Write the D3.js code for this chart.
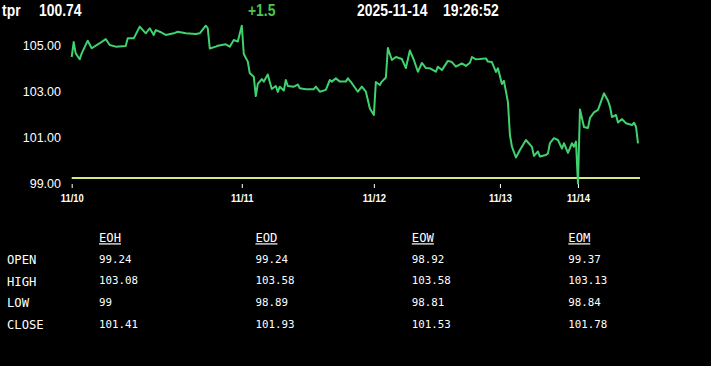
<!DOCTYPE html>
<html>
<head>
<meta charset="utf-8">
<script src="https://cdn.jsdelivr.net/npm/d3@7"></script>
<style>
body{margin:0;background:#000;overflow:hidden;}
#svg-container svg{display:block;background:#000;}
</style>
</head>
<body>
<div id="svg-container"></div>
<script>
//header
symbol="tpr";
lastPrice=100.74;
change="+1.5";
dateText="2025-11-14";
timeText="19:26:52";

//price line: bar index / price
bars=[0,1,2,4,5,8,10,14,17,19,22,27,28,31,34,37,39,41,42,44,47,51,53,57,62,64,67,68,69,72,73,77,79,81,83,85,86,88,89,91,92,93,95,96,98,99,100,102,103,104,106,107,108,111,113,114,117,121,122,124,127,129,130,132,134,137,138,140,143,145,147,148,149,151,152,154,155,157,158,160,162,165,167,169,171,173,175,177,179,182,183,185,188,190,192,195,197,199,200,202,204,207,208,210,212,213,215,216,218,219,220,222,224,227,230,231,233,234,237,238,239,241,243,245,246,248,250,251,252,253,254,256,258,259,261,263,266,268,269,270,272,273,275,277,280,281,282,283];
prices=[104.50,105.15,104.66,104.40,104.66,105.21,104.88,105.10,105.28,105.02,104.95,104.98,105.31,105.31,105.82,105.53,105.75,105.46,105.67,105.60,105.46,105.53,105.60,105.53,105.50,105.53,105.86,105.75,104.87,104.95,104.99,105.05,104.95,105.24,105.17,105.86,104.63,104.30,103.79,103.64,102.80,103.33,103.54,103.43,103.74,103.41,103.11,103.24,102.98,103.21,103.04,103.50,103.24,103.21,103.30,103.14,103.10,103.10,103.21,102.99,103.07,103.50,103.43,103.57,103.43,103.43,103.57,103.36,102.99,103.21,102.99,102.63,102.26,101.98,103.41,103.28,103.43,103.61,104.89,104.37,104.50,104.41,104.02,104.78,104.37,103.86,104.24,104.02,104.01,103.86,104.08,103.93,104.33,104.28,104.08,104.22,104.11,104.25,104.50,104.40,104.41,104.44,104.30,104.28,103.85,104.01,103.33,103.46,102.54,101.11,100.60,100.13,100.46,100.89,100.59,100.20,100.39,100.17,100.24,100.31,100.76,100.97,100.89,100.52,100.75,100.33,100.75,100.60,100.82,99.00,102.22,101.46,101.41,101.85,102.09,102.20,102.92,102.60,102.34,101.89,101.98,101.65,101.80,101.62,101.54,101.64,101.47,100.74];
refPrice=99.24;
totalBars=284;

//x軸的日期
dayBars=[0,85,151,214,253];
dayLabels=["11/10","11/11","11/12","11/13","11/14"];
yTicks=[99,101,103,105];

//table
colNames=["EOH","EOD","EOW","EOM"];
rowNames=["OPEN","HIGH","LOW","CLOSE"];
eoh=["99.24","103.08","99","101.41"];
eod=["99.24","103.58","98.89","101.93"];
eow=["98.92","103.58","98.81","101.53"];
eom=["99.37","103.13","98.84","101.78"];

width=711;
height=366;
sans="'Liberation Sans',Arial,sans-serif";
mono="'DejaVu Sans Mono',monospace";
squeeze=0.82; //沒有narrow字型,用scale壓扁

main=function(){
	$svg=d3.select('#svg-container').append('svg')
		.attr('width',width).attr('height',height);

	//header
	var headItems=[
		{x:2,t:symbol,c:'#fff'},
		{x:39,t:lastPrice.toFixed(2),c:'#fff'},
		{x:248,t:change,c:'#4cc84c'},
		{x:357,t:dateText,c:'#fff'},
		{x:443,t:timeText,c:'#fff'}
	];
	$svg.append('g').attr('transform','scale('+squeeze+',1)')
		.attr('font-family',sans).attr('font-weight','bold').attr('font-size',17)
		.selectAll('text').data(headItems).enter().append('text')
		.attr('x',function(d){return d.x/squeeze;}).attr('y',16)
		.attr('fill',function(d){return d.c;})
		.text(function(d){return d.t;});

	x=d3.scaleLinear().domain([0,totalBars]).range([71.7,640]);
	y=d3.scaleLinear().domain([99,106]).range([183.5,22.5]);

	//y labels
	$svg.append('g').attr('transform','translate(61,0)')
		.call(d3.axisLeft(y).tickValues(yTicks).tickSize(0).tickPadding(0).tickFormat(d3.format('.2f')))
		.call(function(g){g.select('.domain').remove();})
		.selectAll('text').attr('fill','#fff').attr('font-size',12.5)
		.attr('font-family',sans);

	//x axis
	var xa=$svg.append('g').attr('transform','translate(0,184)')
		.call(d3.axisBottom(x).tickValues(dayBars).tickSize(4).tickPadding(5.5)
			.tickFormat(function(d,i){return dayLabels[i];}));
	xa.select('.domain').remove();
	xa.selectAll('line').attr('stroke','#fff');
	xa.selectAll('text').attr('fill','#fff').attr('font-size',11.5)
		.attr('font-family',sans).attr('font-weight','bold')
		.attr('transform','scale('+squeeze+',1)');

	//reference line (open)
	$svg.append('line')
		.attr('x1',x(0)).attr('x2',x(totalBars))
		.attr('y1',y(refPrice)).attr('y2',y(refPrice))
		.attr('stroke','#d6e77e').attr('stroke-width',2);

	//price line
	var pts=bars.map(function(b,i){return [b,prices[i]];});
	$svg.append('path').datum(pts)
		.attr('fill','none').attr('stroke','#40d26e').attr('stroke-width',2)
		.attr('stroke-linejoin','round')
		.attr('d',d3.line().x(function(d){return x(d[0]);}).y(function(d){return y(d[1]);}));

	//table
	var cols=[eoh,eod,eow,eom];
	var colX=d3.scalePoint().domain(colNames).range([99,568.3]);
	var rowY=d3.scalePoint().domain(rowNames).range([0,65.1]);
	var tbl=$svg.append('g').attr('font-family',mono).attr('fill','#fff');

	tbl.selectAll('.colhead').data(colNames).enter().append('text')
		.attr('class','colhead')
		.attr('x',function(d){return colX(d);}).attr('y',242.3)
		.attr('font-size',12.2).style('text-decoration','underline')
		.text(function(d){return d;});

	tbl.selectAll('.rowhead').data(rowNames).enter().append('text')
		.attr('class','rowhead')
		.attr('x',7).attr('y',function(d){return 264+rowY(d);})
		.attr('font-size',12.2)
		.text(function(d){return d;});

	cols.forEach(function(col,c){
		tbl.selectAll('.v'+c).data(col).enter().append('text')
			.attr('class','v'+c)
			.attr('x',colX(colNames[c]))
			.attr('y',function(d,i){return 262.5+rowY(rowNames[i]);})
			.attr('font-size',10.8)
			.text(function(d){return d;});
	});
};

main();
</script>
</body>
</html>
